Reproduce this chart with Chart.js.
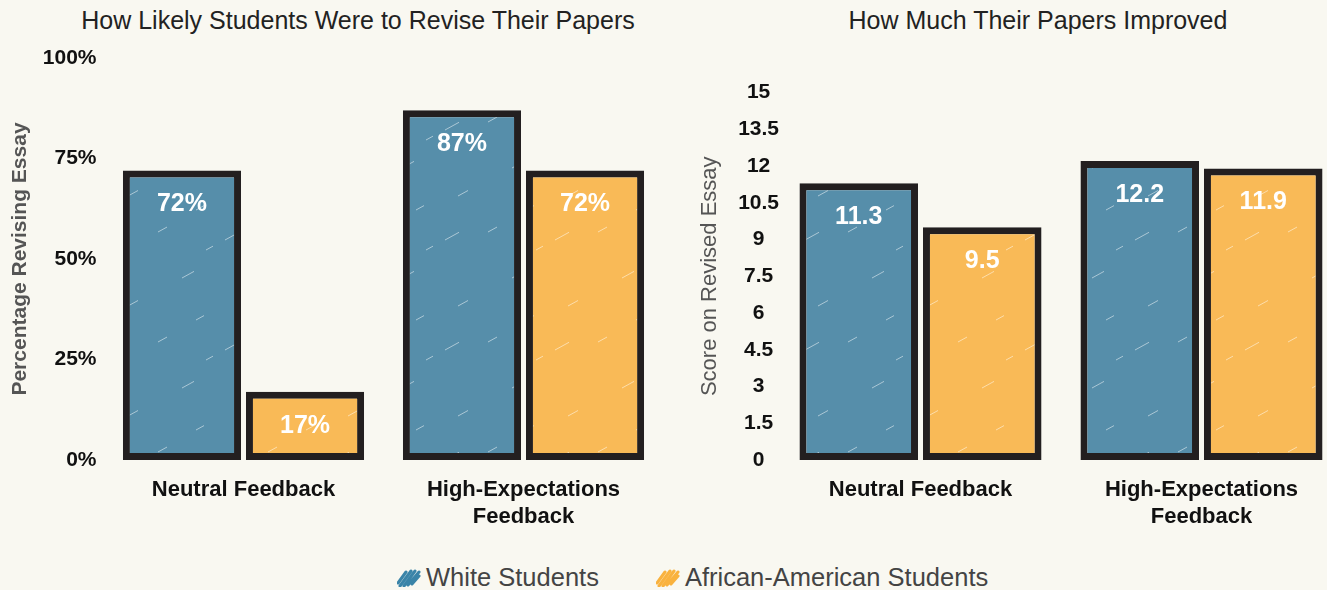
<!DOCTYPE html>
<html>
<head>
<meta charset="utf-8">
<script src="https://cdn.jsdelivr.net/npm/chart.js@4.4.1/dist/chart.umd.min.js"></script>
<style>
  html, body { margin:0; padding:0; background:#f9f8f1; width:1327px; height:590px; overflow:hidden; position:relative;
    font-family:"Liberation Sans", Arial, Helvetica, sans-serif; }
  #c1 { position:absolute; left:0; top:0; }
  #c2 { position:absolute; left:690px; top:0; }
  .ttl { position:absolute; top:5px; font-size:25px; color:#222; white-space:nowrap; transform:translateX(-50%); line-height:30px; }
  #legend { position:absolute; left:397px; top:562px; display:flex; align-items:center; font-size:25.5px; color:#444; line-height:30px; white-space:nowrap; }
  #legend .item { display:flex; align-items:center; }
  #legend svg { margin-right:5px; }
</style>
</head>
<body>
<div class="ttl" style="left:358px">How Likely Students Were to Revise Their Papers</div>
<div class="ttl" style="left:1038px">How Much Their Papers Improved</div>
<canvas id="c1" width="680" height="560" style="width:680px;height:560px"></canvas>
<canvas id="c2" width="660" height="560" style="width:660px;height:560px"></canvas>
<div id="legend"></div>
<script>
// ---- data ----
const categories = [["Neutral Feedback"], ["High-Expectations", "Feedback"]];
const seriesNames = ["White Students", "African-American Students"];
const reviseWhite = [72, 87];
const reviseAfricanAmerican = [17, 72];
const scoreWhite = [11.3, 12.2];
const scoreAfricanAmerican = [9.5, 11.9];
const reviseTicks = [0, 25, 50, 75, 100];
const scoreTicks = [0, 1.5, 3, 4.5, 6, 7.5, 9, 10.5, 12, 13.5, 15];

// ---- style ----
const FONT = '"Liberation Sans", Arial, Helvetica, sans-serif';
const BLUE = '#568eaa';
const ORANGE = '#f9ba57';
const EDGE = '#231f20';
Chart.defaults.font.family = FONT;

function makePattern(color) {
  const c = document.createElement('canvas');
  c.width = 110; c.height = 110;
  const g = c.getContext('2d');
  g.fillStyle = color; g.fillRect(0, 0, 110, 110);
  g.strokeStyle = 'rgba(255,255,255,0.5)';
  g.lineWidth = 1;
  const strokes = [[5,20,14],[48,12,9],[72,58,12],[18,86,10],[86,100,8],[96,30,7]];
  strokes.forEach(([x, y, l]) => {
    g.beginPath(); g.moveTo(x, y); g.lineTo(x + l, y - l * 0.55); g.stroke();
  });
  return g.createPattern(c, 'repeat');
}

function valuePlugin(fmt) {
  return {
    id: 'valueLabels',
    afterDatasetsDraw(chart) {
      const ctx = chart.ctx;
      ctx.save();
      ctx.font = 'bold 25px ' + FONT;
      ctx.fillStyle = '#ffffff';
      ctx.textAlign = 'center';
      ctx.textBaseline = 'middle';
      chart.data.datasets.forEach((ds, i) => {
        chart.getDatasetMeta(i).data.forEach((bar, j) => {
          ctx.fillText(fmt(ds.data[j]), bar.x, bar.y + 34);
        });
      });
      ctx.restore();
    }
  };
}

function datasets(a, b) {
  const common = { borderColor: EDGE, borderWidth: 7, borderSkipped: false,
                   categoryPercentage: 0.879, barPercentage: 0.96 };
  return [
    Object.assign({ label: seriesNames[0], data: a, backgroundColor: makePattern(BLUE) }, common),
    Object.assign({ label: seriesNames[1], data: b, backgroundColor: makePattern(ORANGE) }, common)
  ];
}

function xAxis() {
  return {
    grid: { display: false, drawTicks: false },
    border: { display: false },
    ticks: { color: '#111', padding: 16, font: { size: 22, weight: 'bold', lineHeight: 1.25 } },
    afterFit(s) { s.height = 100; }
  };
}

new Chart(document.getElementById('c1'), {
  type: 'bar',
  data: { labels: categories, datasets: datasets(reviseWhite, reviseAfricanAmerican) },
  options: {
    responsive: false, animation: false,
    layout: { padding: { top: 58, right: 16.5, left: 0, bottom: 0 } },
    plugins: { legend: { display: false }, title: { display: false }, tooltip: { enabled: false } },
    scales: {
      x: xAxis(),
      y: {
        min: reviseTicks[0], max: reviseTicks[reviseTicks.length - 1],
        afterBuildTicks(s) { s.ticks = reviseTicks.map(v => ({ value: v })); },
        grid: { display: false, drawTicks: false },
        border: { display: false },
        ticks: { color: '#111', padding: 7, font: { size: 21, weight: 'bold' }, callback: v => v + '%' },
        title: { display: true, text: 'Percentage Revising Essay', color: '#555',
                 font: { size: 21, weight: 'bold' }, padding: { top: 8, bottom: 0 } },
        afterFit(s) { s.width = 103.5; }
      }
    }
  },
  plugins: [valuePlugin(v => v + '%')]
});

new Chart(document.getElementById('c2'), {
  type: 'bar',
  data: { labels: categories, datasets: datasets(scoreWhite, scoreAfricanAmerican) },
  options: {
    responsive: false, animation: false,
    layout: { padding: { top: 92.5, right: 8, left: 0, bottom: 0 } },
    plugins: { legend: { display: false }, title: { display: false }, tooltip: { enabled: false } },
    scales: {
      x: xAxis(),
      y: {
        min: scoreTicks[0], max: scoreTicks[scoreTicks.length - 1],
        afterBuildTicks(s) { s.ticks = scoreTicks.map(v => ({ value: v })); },
        grid: { display: false, drawTicks: false },
        border: { display: false },
        ticks: { color: '#111', padding: 1, crossAlign: 'center', font: { size: 21, weight: 'bold' },
                 callback: v => String(v) },
        title: { display: true, text: 'Score on Revised Essay', color: '#555',
                 font: { size: 22, weight: 'normal' }, padding: { top: 7, bottom: 0 } },
        afterFit(s) { s.width = 90; }
      }
    }
  },
  plugins: [valuePlugin(v => v.toFixed(1))]
});

// ---- legend ----
const legend = document.getElementById('legend');
[[seriesNames[0], '#3a84a8'], [seriesNames[1], '#f9b23e']].forEach(([name, col], i) => {
  const item = document.createElement('div');
  item.className = 'item';
  if (i > 0) item.style.marginLeft = '57px';
  item.innerHTML = '<svg width="24" height="20" viewBox="0 0 24 20"><path d="M1 16 L9 5 M3 19 L14 4 M7 19 L18 4 M11 18 L22 5 M15 17 L22 9" stroke="' + col + '" stroke-width="3" stroke-linecap="round" fill="none"/></svg>';
  const t = document.createElement('span');
  t.textContent = name;
  item.appendChild(t);
  legend.appendChild(item);
});
</script>
</body>
</html>
